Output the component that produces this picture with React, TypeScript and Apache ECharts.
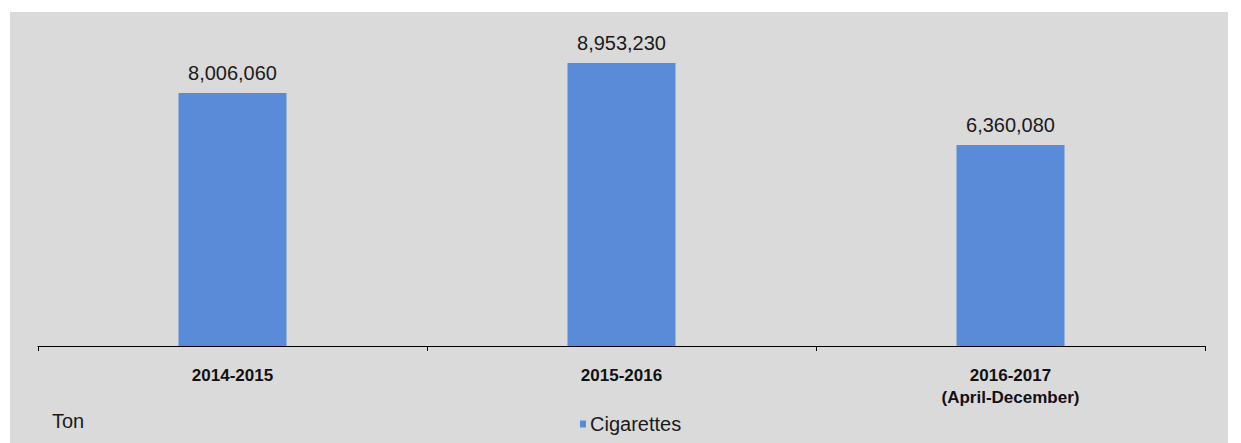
import React, { useEffect, useRef } from "react";
import * as echarts from "echarts";

const categories = ["2014-2015", "2015-2016", "2016-2017\n(April-December)"];
const cigarettes = [8006060, 8953230, 6360080];
const seriesName = "Cigarettes";
const unitLabel = "Ton";

export default function App() {
  const ref = useRef<HTMLDivElement>(null);
  useEffect(() => {
    const chart = echarts.init(ref.current!, null, { renderer: "svg" });
    chart.setOption({
      animation: false,
      backgroundColor: "#ffffff",
      textStyle: { fontFamily: "Liberation Sans, Arial, sans-serif" },
      graphic: [
        {
          type: "rect",
          z: -10,
          silent: true,
          shape: { x: 10, y: 12, width: 1218, height: 431 },
          style: { fill: "#dadada" },
        },
        {
          type: "text",
          left: 52,
          top: 411,
          style: { text: unitLabel, fontSize: 20, fill: "#1a1a1a", fontFamily: "Liberation Sans, Arial, sans-serif" },
        },
      ],
      grid: { left: 38, right: 36, top: 30, bottom: 97 },
      legend: {
        data: [seriesName],
        left: 575,
        top: 409,
        icon: "rect",
        itemWidth: 6,
        itemHeight: 7,
        itemGap: 4,
        textStyle: { fontSize: 20, color: "#1a1a1a", padding: [0, 0, 0, -1] },
      },
      xAxis: {
        type: "category",
        data: categories,
        axisLine: { lineStyle: { color: "#000", width: 1 } },
        axisTick: { show: true, length: 5, lineStyle: { color: "#000" } },
        axisLabel: {
          margin: 18,
          fontSize: 17,
          fontWeight: "bold",
          color: "#111",
          lineHeight: 22,
        },
      },
      yAxis: {
        type: "value",
        min: 0,
        max: 10000000,
        show: false,
        splitLine: { show: false },
      },
      series: [
        {
          name: seriesName,
          type: "bar",
          data: cigarettes,
          barWidth: 108,
          itemStyle: { color: "#5a8bd8" },
          label: {
            show: true,
            position: "top",
            distance: 10,
            fontSize: 20,
            color: "#1a1a1a",
            formatter: (p: any) => p.value.toLocaleString("en-US"),
          },
        },
      ],
    });
    return () => chart.dispose();
  }, []);
  return <div ref={ref} style={{ position: "absolute", left: 0, top: 0, width: 1241, height: 443 }} />;
}
